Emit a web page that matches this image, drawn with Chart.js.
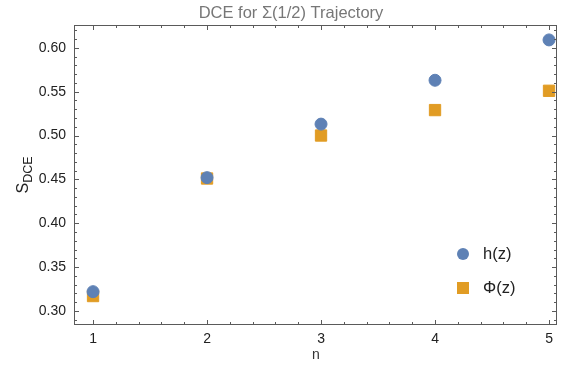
<!doctype html>
<html lang="en">
  <head>
    <meta charset="UTF-8" />
    <title>DCE for Σ(1/2) Trajectory</title>
    <script src="https://cdn.jsdelivr.net/npm/chart.js"></script>
    <style>
      body {
        margin: 0;
        background: #ffffff;
      }
      .chart-container {
        width: 566px;
        height: 374px;
      }
    </style>
  </head>
  <body>
    <div class="chart-container">
      <canvas id="dceChart" width="566" height="374"></canvas>
    </div>

    <script>
      // values
      const nValues = [1, 2, 3, 4, 5];
      const hValues = [0.322, 0.452, 0.513, 0.563, 0.609];
      const phiValues = [0.317, 0.451, 0.5, 0.529, 0.551];
      const seriesLabels = ["h(z)", "Φ(z)"];
      const xTicks = [1, 2, 3, 4, 5];
      const yTicks = [0.3, 0.35, 0.4, 0.45, 0.5, 0.55, 0.6];

      const FONT = "'Liberation Sans', Arial, sans-serif";
      const BLUE = "#5e81b5";
      const ORANGE = "#e19c24";
      const FRAME = "#5a5a5a";

      // frame, inward ticks, title, axis labels and legend
      const decorations = {
        id: "decorations",
        afterDraw(chart) {
          const { ctx, chartArea: a, scales } = chart;
          const x = scales.x, y = scales.y;
          ctx.save();
          ctx.strokeStyle = FRAME;
          ctx.lineWidth = 1;
          ctx.strokeRect(a.left + 0.5, a.top + 0.5, a.right - a.left - 1, a.bottom - a.top - 1);

          ctx.beginPath();
          for (let i = 0; i <= 500; i++) {
            const v = 0.28 + i * 0.01;
            if (v < y.min || v > y.max) continue;
            const py = Math.round(y.getPixelForValue(v)) + 0.5;
            const major = Math.abs(v * 20 - Math.round(v * 20)) < 1e-6;
            const len = major ? 5 : 3;
            ctx.moveTo(a.left, py); ctx.lineTo(a.left + len, py);
            ctx.moveTo(a.right, py); ctx.lineTo(a.right - len, py);
          }
          for (let i = 0; i <= 30; i++) {
            const v = 0.8 + i * 0.2;
            if (v < x.min || v > x.max) continue;
            const px = Math.round(x.getPixelForValue(v)) + 0.5;
            const major = Math.abs(v - Math.round(v)) < 1e-6;
            const len = major ? 5 : 3;
            ctx.moveTo(px, a.bottom); ctx.lineTo(px, a.bottom - len);
            ctx.moveTo(px, a.top); ctx.lineTo(px, a.top + len);
          }
          ctx.stroke();

          // title
          ctx.fillStyle = "#777777";
          ctx.font = "16.5px " + FONT;
          ctx.textAlign = "center";
          ctx.textBaseline = "middle";
          ctx.fillText("DCE for Σ(1/2) Trajectory", 291, 13);

          // x title
          ctx.fillStyle = "#333333";
          ctx.font = "14px " + FONT;
          ctx.fillText("n", 316, 355);

          // y title with subscript
          ctx.save();
          ctx.translate(28, (a.top + a.bottom) / 2);
          ctx.rotate(-Math.PI / 2);
          ctx.textAlign = "left";
          ctx.textBaseline = "alphabetic";
          ctx.font = "16px " + FONT;
          const sW = ctx.measureText("S").width;
          ctx.font = "12.5px " + FONT;
          const subW = ctx.measureText("DCE").width;
          const start = -(sW + subW) / 2;
          ctx.font = "16px " + FONT;
          ctx.fillStyle = "#222222";
          ctx.fillText("S", start, 0);
          ctx.font = "12.5px " + FONT;
          ctx.fillText("DCE", start + sW, 4);
          ctx.restore();

          // legend
          const items = chart.data.datasets;
          ctx.font = "16.5px " + FONT;
          ctx.textAlign = "left";
          ctx.textBaseline = "middle";
          items.forEach((ds, i) => {
            const ly = 254 + i * 34;
            ctx.fillStyle = ds.backgroundColor;
            if (ds.pointStyle === "circle") {
              ctx.beginPath();
              ctx.arc(463, ly, 6, 0, Math.PI * 2);
              ctx.fill();
            } else {
              ctx.fillRect(457, ly - 6, 12, 12);
            }
            ctx.fillStyle = "#222222";
            ctx.fillText(ds.label, 483, ly);
          });
          ctx.restore();
        }
      };

      const ctx = document.getElementById("dceChart").getContext("2d");
      const dceChart = new Chart(ctx, {
        type: "scatter",
        data: {
          datasets: [
            {
              label: seriesLabels[0],
              data: nValues.map((n, i) => ({ x: n, y: hValues[i] })),
              backgroundColor: BLUE,
              borderColor: BLUE,
              pointStyle: "circle",
              pointRadius: 6,
              pointHoverRadius: 6
            },
            {
              label: seriesLabels[1],
              data: nValues.map((n, i) => ({ x: n, y: phiValues[i] })),
              backgroundColor: ORANGE,
              borderColor: ORANGE,
              pointStyle: "rect",
              pointRadius: 8,
              pointHoverRadius: 8
            }
          ]
        },
        options: {
          responsive: false,
          animation: false,
          maintainAspectRatio: false,
          layout: { padding: { top: 25, right: 9, left: 0, bottom: 0 } },
          plugins: {
            legend: { display: false },
            tooltip: { enabled: false }
          },
          scales: {
            x: {
              type: "linear",
              min: 0.833,
              max: 5.07,
              grid: { display: false, drawTicks: false },
              border: { display: false },
              afterBuildTicks: (s) => { s.ticks = xTicks.map((v) => ({ value: v })); },
              afterFit: (s) => { s.height = 49; },
              ticks: {
                color: "#222222",
                padding: 6,
                maxRotation: 0,
                font: { family: FONT, size: 14 },
                callback: (v) => String(v)
              }
            },
            y: {
              type: "linear",
              min: 0.284,
              max: 0.626,
              grid: { display: false, drawTicks: false },
              border: { display: false },
              afterBuildTicks: (s) => { s.ticks = yTicks.map((v) => ({ value: v })); },
              afterFit: (s) => { s.width = 74; },
              ticks: {
                color: "#222222",
                padding: 8,
                font: { family: FONT, size: 14 },
                callback: (v) => v.toFixed(2)
              }
            }
          }
        },
        plugins: [decorations]
      });
    </script>
  </body>
</html>
